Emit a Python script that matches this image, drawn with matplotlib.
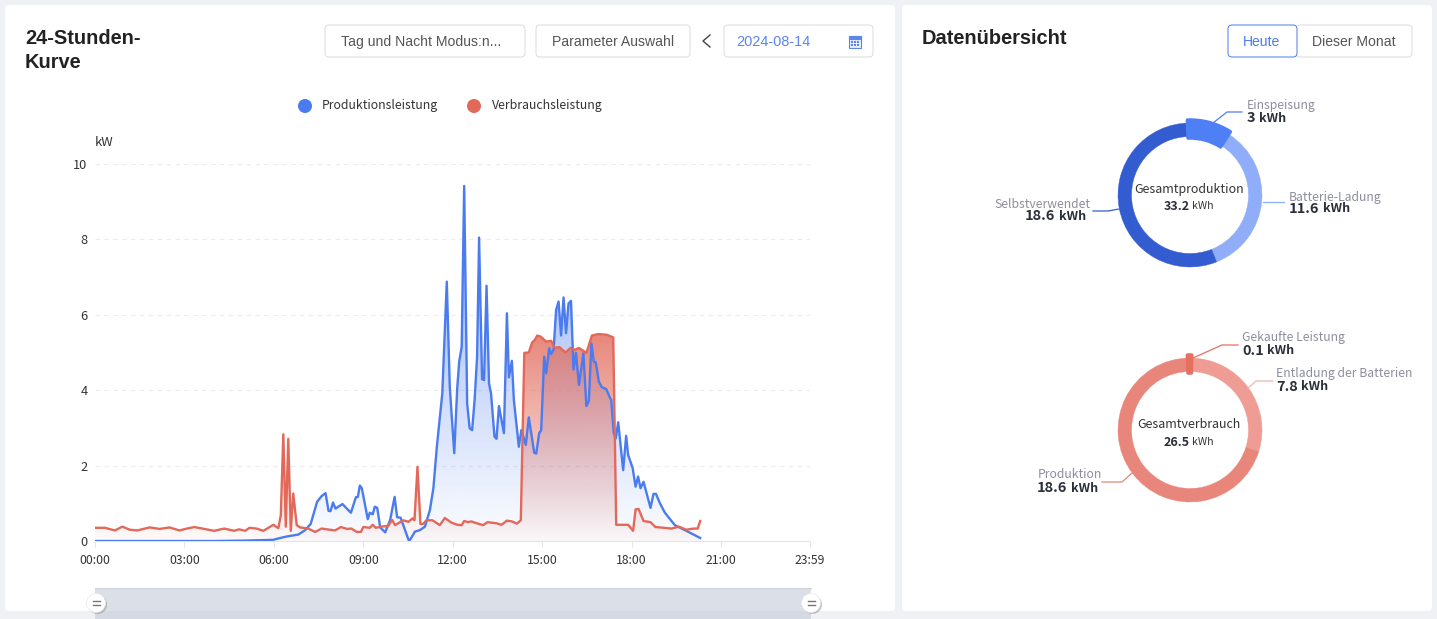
import numpy as np
import matplotlib
matplotlib.use("Agg")
import matplotlib.pyplot as plt
from matplotlib.patches import FancyBboxPatch, Rectangle, Wedge, Circle, Polygon

plt.rcParams['font.family'] = ['Noto Sans CJK SC', 'DejaVu Sans']

# minutes after midnight / kW
prod_t = [0, 120, 240, 300, 358, 376, 386, 409, 423, 434, 447, 456, 464, 470, 474, 479, 484, 498, 515, 525, 529, 533, 537,
          549, 553, 559, 563, 568, 574, 584, 594, 603, 608, 615, 631, 634, 644, 654, 664, 674, 681, 688, 699, 708, 714,
          723, 729, 733, 738, 743, 749, 754, 759, 764, 769, 773, 779, 783, 788, 793, 797, 804, 808, 813, 823, 829, 833,
          839, 843, 853, 858, 867, 873, 884, 888, 894, 898, 904, 908, 914, 918, 923, 928, 933, 938, 943, 948, 953, 958,
          963, 968, 974, 983, 989, 994, 999, 1004, 1008, 1014, 1020, 1029, 1036, 1039, 1044, 1048, 1053, 1063, 1069,
          1073, 1082, 1088, 1093, 1098, 1104, 1118, 1124, 1129, 1137, 1147, 1167, 1187, 1218]
prod_kw = [0, 0, 0, 0.01, 0.03, 0.09, 0.12, 0.17, 0.29, 0.45, 1.04, 1.19, 1.27, 0.80, 0.79, 1.02, 0.86, 0.98, 0.75, 1.16, 1.17,
           1.47, 1.40, 0.58, 0.75, 0.71, 0.91, 0.88, 0.36, 0.23, 0.56, 1.17, 0.63, 0.62, 0.03, 0.03, 0.25, 0.29, 0.38, 0.82,
           1.40, 2.50, 3.92, 6.88, 4.09, 2.33, 4.05, 4.76, 5.15, 9.42, 3.65, 2.99, 2.94, 3.74, 4.89, 8.05, 4.29, 4.27, 6.77,
           4.18, 3.92, 2.77, 2.71, 3.58, 2.86, 6.04, 4.34, 4.78, 3.74, 2.50, 2.94, 2.55, 3.28, 2.34, 2.32, 2.86, 2.94, 4.89,
           4.45, 5.11, 4.96, 5.07, 6.13, 6.35, 5.45, 6.46, 5.51, 6.30, 6.37, 4.55, 4.99, 4.14, 4.98, 3.58, 3.72, 5.24, 4.76,
           4.73, 4.23, 4.08, 4.03, 3.81, 3.74, 2.86, 2.72, 3.15, 1.88, 2.79, 2.28, 1.94, 1.44, 1.71, 1.40, 1.57, 0.88, 1.25,
           1.25, 1.00, 0.75, 0.42, 0.29, 0.08]

cons_t = [0, 20, 40, 55, 70, 85, 110, 130, 150, 170, 185, 200, 220, 240, 260, 280, 290, 302, 311, 325, 339, 359, 369, 374,
          379, 384, 389, 394, 399, 406, 413, 429, 443, 456, 483, 495, 507, 516, 527, 535, 540, 553, 559, 565, 575, 590, 598,
          604, 620, 631, 639, 643, 649, 655, 660, 667, 679, 694, 704, 717, 729, 738, 743, 751, 757, 771, 781, 790, 808, 818,
          829, 839, 849, 857, 864, 873, 880, 885, 890, 897, 908, 918, 925, 935, 947, 957, 965, 974, 989, 1000, 1013, 1030,
          1043, 1049, 1073, 1083, 1088, 1094, 1104, 1118, 1128, 1137, 1160, 1175, 1190, 1205, 1213, 1218]
cons_kw = [0.35, 0.35, 0.28, 0.38, 0.30, 0.28, 0.36, 0.32, 0.36, 0.28, 0.33, 0.37, 0.32, 0.27, 0.33, 0.27, 0.31, 0.27, 0.35, 0.33,
           0.27, 0.43, 0.34, 0.69, 2.83, 0.38, 2.71, 0.27, 1.26, 0.42, 0.36, 0.33, 0.24, 0.33, 0.28, 0.37, 0.32, 0.33, 0.24,
           0.24, 0.37, 0.35, 0.43, 0.35, 0.38, 0.40, 0.56, 0.42, 0.55, 0.51, 0.60, 0.55, 1.97, 0.45, 0.45, 0.55, 0.55, 0.42,
           0.61, 0.49, 0.43, 0.42, 0.53, 0.50, 0.52, 0.46, 0.42, 0.50, 0.47, 0.43, 0.54, 0.52, 0.46, 0.55, 4.99, 5.00, 5.27,
           5.33, 5.45, 5.42, 5.29, 5.31, 5.13, 5.14, 5.00, 5.12, 5.07, 5.12, 4.99, 5.45, 5.49, 5.47, 5.40, 0.43, 0.43, 0.27,
           0.84, 0.85, 0.53, 0.50, 0.37, 0.36, 0.33, 0.38, 0.30, 0.33, 0.33, 0.53]

tick_min = [0, 180, 360, 540, 720, 900, 1080, 1260, 1439]
tick_lbl = ['00:00', '03:00', '06:00', '09:00', '12:00', '15:00', '18:00', '21:00', '23:59']
y_ticks = [0, 2, 4, 6, 8, 10]

prod_names = ['Einspeisung', 'Batterie-Ladung', 'Selbstverwendet']
prod_vals = [3, 11.6, 18.6]
cons_names = ['Gekaufte Leistung', 'Entladung der Batterien', 'Produktion']
cons_vals = [0.1, 7.8, 18.6]

BLUE = '#4a7bef'
RED = '#e2695a'
W, H = 1437, 619


def px(s):
    return s * 0.72


fig = plt.figure(figsize=(W / 100, H / 100), dpi=100, facecolor='#eff1f5')

# whole figure axes in pixel coordinates for panels, buttons, donuts
bg = fig.add_axes([0, 0, 1, 1], zorder=0)
bg.set_xlim(0, W)
bg.set_ylim(H, 0)
bg.axis('off')


def box(x0, y0, x1, y1, fc='white', ec='none', lw=0.7, r=4, z=1):
    p = FancyBboxPatch((x0 + r, y0 + r), x1 - x0 - 2 * r, y1 - y0 - 2 * r, boxstyle='round,pad=%d,rounding_size=%d' % (r, r),
                       fc=fc, ec=ec, lw=lw, zorder=z)
    bg.add_patch(p)


box(5, 5, 895, 611)
box(902, 5, 1432, 611)

bg.text(25, 38.5, '24-Stunden-', fontsize=px(20), fontweight='bold', family='Liberation Sans', color='#222222', va='center')
bg.text(25, 63, 'Kurve', fontsize=px(20), fontweight='bold', family='Liberation Sans', color='#222222', va='center')
bg.text(922, 38.5, 'Datenübersicht', fontsize=px(20), fontweight='bold', family='Liberation Sans', color='#222222', va='center')

# buttons
box(325, 25, 525, 57, ec='#d9dbe0')
bg.text(341, 42, 'Tag und Nacht Modus:n...', fontsize=px(14), family='Liberation Sans', color='#555555', va='center')
box(536, 25, 690, 57, ec='#d9dbe0')
bg.text(552, 42, 'Parameter Auswahl', fontsize=px(14), family='Liberation Sans', color='#555555', va='center')
bg.plot([710, 703, 710], [35, 41, 47], color='#444444', lw=1.0, zorder=2)
box(724, 25, 873, 57, ec='#d9dbe0')
bg.text(736, 42, '2024-08-14', fontsize=px(14.5), family='Liberation Sans', color='#5b86ee', va='center')
# calendar icon
bg.add_patch(Rectangle((849, 36), 12, 12, fc='#e8eefd', ec='#5b86ee', lw=0.8, zorder=2))
bg.add_patch(Rectangle((849, 36), 12, 2.5, fc='#5b86ee', ec='#5b86ee', lw=0.8, zorder=2))
for cx in [852, 855, 858]:
    for cy in [42, 45]:
        bg.add_patch(Rectangle((cx - 0.7, cy - 0.7), 1.4, 1.4, fc='#5b86ee', ec='none', zorder=3))

box(1296, 25, 1412, 57, ec='#d9dbe0')
bg.text(1354, 42, 'Dieser Monat', fontsize=px(14), family='Liberation Sans', color='#555555', va='center', ha='center')
box(1228, 25, 1297, 57, ec=BLUE, z=2)
bg.text(1262, 42, 'Heute', fontsize=px(14), family='Liberation Sans', color=BLUE, va='center', ha='center', zorder=3)

# legend
bg.add_patch(Circle((305, 106), 7, fc=BLUE, ec='none', zorder=2))
bg.text(322, 106, 'Produktionsleistung', fontsize=px(12.3), color='#333333', va='center')
bg.add_patch(Circle((474, 106), 7, fc=RED, ec='none', zorder=2))
bg.text(492, 106, 'Verbrauchsleistung', fontsize=px(12.3), color='#333333', va='center')
bg.text(95, 143, 'kW', fontsize=px(13), color='#333333', va='center')

# zoom slider under the chart
bg.add_patch(Rectangle((95, 588), 716, 23, fc='#dbdfe8', ec='none', zorder=2))
bg.add_patch(Rectangle((95, 611), 716, 8, fc='#d5d9e4', ec='none', zorder=2))
bg.plot([95, 811], [588, 588], color='#d0d3da', lw=0.8, zorder=3)
for hx in [96, 811]:
    bg.add_patch(Circle((hx + 1.5, 604.5), 9.5, fc='#9a9a9a', ec='none', alpha=0.6, zorder=3))
    bg.add_patch(Circle((hx, 603), 9.5, fc='white', ec='#e8e8e8', lw=0.5, zorder=4))
    bg.plot([hx - 3.5, hx + 3.5], [601, 601], color='#777777', lw=1, zorder=5)
    bg.plot([hx - 3.5, hx + 3.5], [605, 605], color='#777777', lw=1, zorder=5)

# main chart
ax = fig.add_axes([95 / W, 1 - 541 / H, (810 - 95) / W, (541 - 164) / H], zorder=1)
ax.patch.set_alpha(0)


def grad_fill(t, v, color, a_top, a_bot, z):
    poly = Polygon(list(zip(t, v)) + [(t[-1], 0), (t[0], 0)], closed=True, fc='none', ec='none', transform=ax.transData)
    ax.add_patch(poly)
    rgba = np.zeros((256, 1, 4))
    rgba[:, :, :3] = matplotlib.colors.to_rgb(color)
    rgba[:, 0, 3] = np.linspace(a_top, a_bot, 256)
    im = ax.imshow(rgba, extent=[t[0], t[-1], 0, max(v)], aspect='auto', origin='upper', zorder=z, interpolation='bilinear')
    im.set_clip_path(poly)


grad_fill(prod_t, prod_kw, BLUE, 0.62, 0.02, 2)
grad_fill(cons_t, cons_kw, RED, 0.8, 0.03, 2.5)
ax.plot(prod_t, prod_kw, color=BLUE, lw=1.7, zorder=3, solid_joinstyle='round')
ax.plot(cons_t, cons_kw, color=RED, lw=1.7, zorder=3.5, solid_joinstyle='round')

ax.set_xlim(0, 1439)
ax.set_ylim(0, 10)
ax.set_xticks(tick_min)
ax.set_xticklabels(tick_lbl, fontsize=px(12.2), color='#333333')
ax.set_yticks(y_ticks)
ax.set_yticklabels(y_ticks, fontsize=px(12.8), color='#333333')
ax.tick_params(axis='x', length=4, width=0.8, color='#e0e6f1', pad=5.5)
ax.tick_params(axis='y', length=0, pad=5.5)
ax.grid(axis='y', color='#ececec', lw=0.8, ls=(0, (4, 4)))
ax.set_axisbelow(True)
for s in ['top', 'left', 'right']:
    ax.spines[s].set_visible(False)
ax.spines['bottom'].set_color('#e0e6f1')
ax.spines['bottom'].set_linewidth(0.8)


def donut(cx, cy, vals, colors, hi_min=0):
    # slices run clockwise from the top; y axis is flipped so angles grow clockwise
    start = -90.0
    total = sum(vals)
    for i, v in enumerate(vals):
        end = start + v / total * 360
        if i > 0:
            bg.add_patch(Wedge((cx, cy), 72, start, end, width=13.5, fc=colors[i], ec=colors[i], lw=0.3, zorder=2))
        start = end
    # first slice is the highlighted one: bigger ring, rounded corners
    end = -90.0 + vals[0] / total * 360
    bg.add_patch(Wedge((cx, cy), 75, -92.0, max(end, -92 + hi_min), width=18, fc=colors[0], ec=colors[0], lw=2.5,
                       joinstyle='round', zorder=3))


donut(1190, 195, prod_vals, ['#4f7ff5', '#8fadf8', '#345cd1'])
donut(1190, 430, cons_vals, ['#e5705f', '#ef9c94', '#e8867b'], hi_min=3)

renderer = fig.canvas.get_renderer()


def value_label(x, y, val, size=14.5, unit_size=12.5):
    t = bg.text(x, y, str(val), fontsize=px(size), fontweight='bold', color='#2b2f3a', va='center', zorder=4)
    w = t.get_window_extent(renderer).width
    bg.text(x + w + 3.5, y, 'kWh', fontsize=px(unit_size), fontweight='bold', color='#2b2f3a', va='center', zorder=4)


def callout(name, val, nx, vx, ny, vy, line, color):
    bg.plot([p[0] for p in line], [p[1] for p in line], color=color, lw=0.9, zorder=2)
    bg.text(nx, ny, name, fontsize=px(12.2), color='#8e8e9e', va='center', zorder=4)
    value_label(vx, vy, val)


callout(prod_names[0], prod_vals[0], 1247, 1247, 105, 118, [(1213, 123), (1227, 112), (1242, 112)], '#4f7ff5')
callout(prod_names[1], prod_vals[1], 1289, 1289, 197, 209, [(1263, 202), (1284, 202)], '#8fadf8')
callout(prod_names[2], prod_vals[2], 994, 1025, 204, 216, [(1119, 209), (1108, 211), (1093, 211)], '#345cd1')
callout(cons_names[0], cons_vals[0], 1242, 1242, 338, 351, [(1193, 358), (1222, 345), (1238, 345)], '#e5705f')
callout(cons_names[1], cons_vals[1], 1276, 1276, 374, 387, [(1248, 388), (1256, 381), (1273, 381)], '#f2b5ae')
callout(cons_names[2], cons_vals[2], 1038, 1037, 475, 488, [(1132, 473), (1122, 482), (1102, 482)], '#e8867b')

bg.text(1189, 189, 'Gesamtproduktion', fontsize=px(12.4), color='#333333', ha='center', va='center', zorder=4)
bg.text(1164, 206, '33.2', fontsize=px(12.5), fontweight='bold', color='#2b2f3a', va='center', zorder=4)
bg.text(1192, 206, 'kWh', fontsize=px(10.5), color='#333333', va='center', zorder=4)
bg.text(1189, 425, 'Gesamtverbrauch', fontsize=px(12.4), color='#333333', ha='center', va='center', zorder=4)
bg.text(1164, 442, '26.5', fontsize=px(12.5), fontweight='bold', color='#2b2f3a', va='center', zorder=4)
bg.text(1192, 442, 'kWh', fontsize=px(10.5), color='#333333', va='center', zorder=4)

fig.savefig('out.png', dpi=100, facecolor=fig.get_facecolor())
